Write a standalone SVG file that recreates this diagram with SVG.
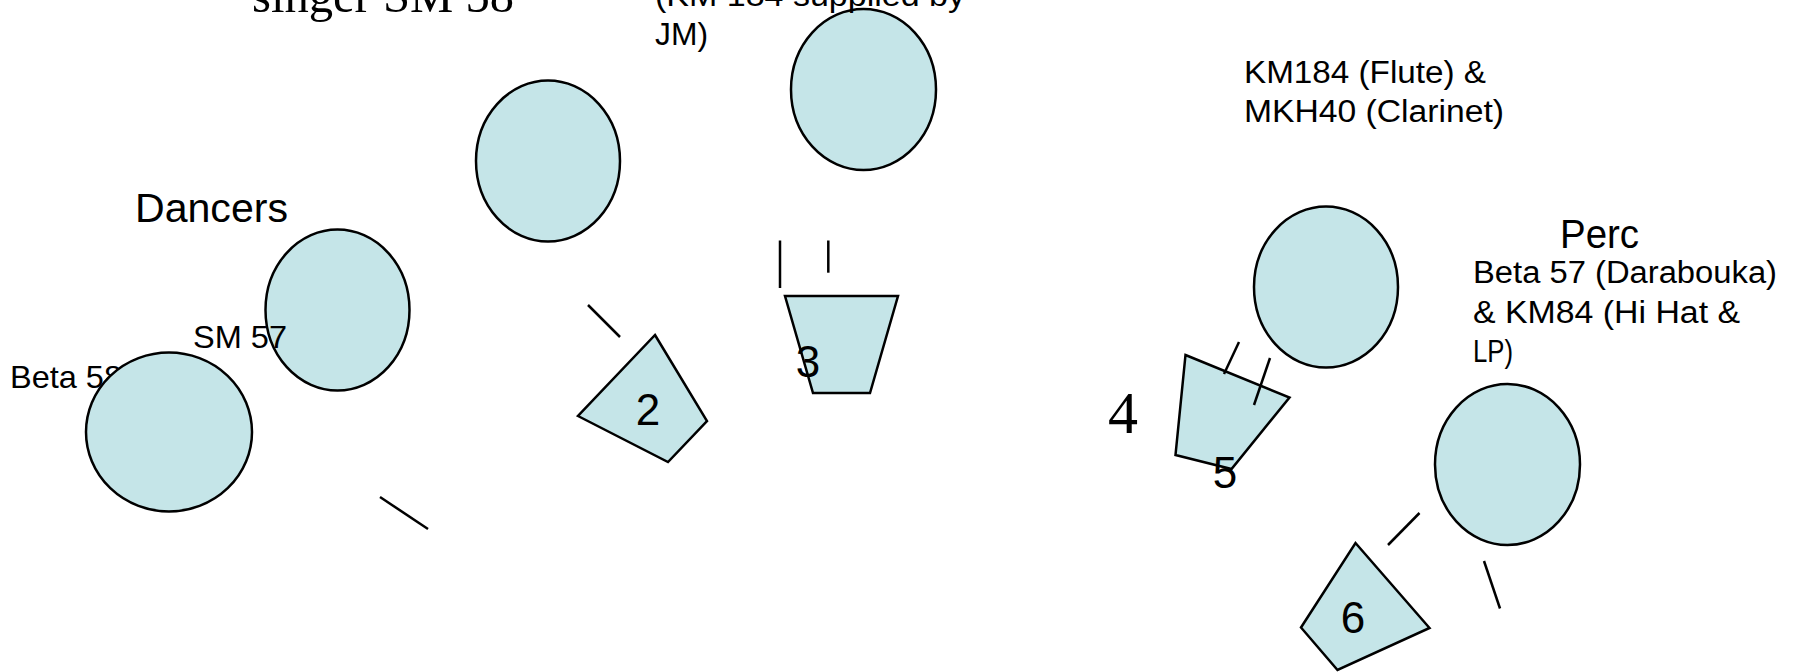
<svg xmlns="http://www.w3.org/2000/svg" width="1796" height="672" viewBox="0 0 1796 672">
<style>
.shape{fill:#c5e5e8;stroke:#000;stroke-width:2.5;stroke-linejoin:miter}
.stand{stroke:#000;stroke-width:2.5;fill:none}
.lbl{font-family:"Liberation Sans","DejaVu Sans",sans-serif;fill:#000}
.serif{font-family:"Liberation Serif","DejaVu Serif",serif;fill:#000}
.num{font-family:"Liberation Sans","DejaVu Sans",sans-serif;font-size:44px;text-anchor:middle;fill:#000}
</style>
<rect width="1796" height="672" fill="#fff"/>
<text class="lbl" x="10" y="388" font-size="32" textLength="112" lengthAdjust="spacingAndGlyphs">Beta 58</text>
<g id="dancer1"><ellipse class="shape" cx="169" cy="432" rx="83" ry="79.5"/></g>
<g id="dancer2"><ellipse class="shape" cx="337.5" cy="310" rx="72" ry="80.5"/></g>
<g id="singer-left"><ellipse class="shape" cx="548" cy="161" rx="72" ry="80.5"/></g>
<g id="singer-top"><ellipse class="shape" cx="863.5" cy="89.5" rx="72.5" ry="80.5"/></g>
<g id="woodwind"><ellipse class="shape" cx="1326" cy="287" rx="72" ry="80.5"/></g>
<g id="perc"><ellipse class="shape" cx="1507.5" cy="464.5" rx="72.5" ry="80.5"/></g>
<g id="monitor2"><polygon class="shape" points="655,335 707,421 668,462 578,416"/><text class="num" x="648" y="425">2</text></g>
<g id="monitor3"><polygon class="shape" points="785,296 898,296 870,393 813,393"/><text class="num" x="808" y="377">3</text></g>
<g id="monitor5"><polygon class="shape" points="1185.5,355 1289.5,397.5 1231.5,469 1175.5,455"/><text class="num" x="1225" y="488">5</text></g>
<g id="monitor6"><polygon class="shape" points="1355.5,543 1429.5,628 1337.5,670 1301,627.5"/><text class="num" x="1353" y="633">6</text></g>
<g id="connectors">
<line class="stand" x1="380" y1="497" x2="428" y2="529"/>
<line class="stand" x1="588" y1="305" x2="620" y2="337"/>
<line class="stand" x1="780" y1="240.5" x2="780" y2="288"/>
<line class="stand" x1="828.3" y1="240.5" x2="828.3" y2="272.7"/>
<line class="stand" x1="1239" y1="342" x2="1224" y2="374"/>
<line class="stand" x1="1270" y1="358" x2="1254" y2="405"/>
<line class="stand" x1="1419.5" y1="513" x2="1388" y2="545"/>
<line class="stand" x1="1484" y1="561" x2="1500" y2="608.5"/>
</g>
<g id="labels">
<text class="serif" x="252" y="12" font-size="48" textLength="262" lengthAdjust="spacingAndGlyphs">singer SM 58</text>
<text class="lbl" x="655" y="6" font-size="31" textLength="310" lengthAdjust="spacingAndGlyphs">(KM 184 supplied by</text>
<text class="lbl" x="655" y="45" font-size="31" textLength="53" lengthAdjust="spacingAndGlyphs">JM)</text>
<text class="lbl" x="135" y="222" font-size="40" textLength="153" lengthAdjust="spacingAndGlyphs">Dancers</text>
<text class="lbl" x="193" y="348" font-size="32" textLength="94" lengthAdjust="spacingAndGlyphs">SM 57</text>
<text class="lbl" x="1244" y="83" font-size="31" textLength="242" lengthAdjust="spacingAndGlyphs">KM184 (Flute) &amp;</text>
<text class="lbl" x="1244" y="122" font-size="31" textLength="260" lengthAdjust="spacingAndGlyphs">MKH40 (Clarinet)</text>
<text class="lbl" x="1560" y="248" font-size="40" textLength="79" lengthAdjust="spacingAndGlyphs">Perc</text>
<text class="lbl" x="1473" y="283" font-size="31" textLength="304" lengthAdjust="spacingAndGlyphs">Beta 57 (Darabouka)</text>
<text class="lbl" x="1473" y="323" font-size="31" textLength="267" lengthAdjust="spacingAndGlyphs">&amp; KM84 (Hi Hat &amp;</text>
<text class="lbl" x="1473" y="362" font-size="31" textLength="40" lengthAdjust="spacingAndGlyphs">LP)</text>
<text class="serif" x="1108" y="433" font-size="60">4</text>
</g>
</svg>
